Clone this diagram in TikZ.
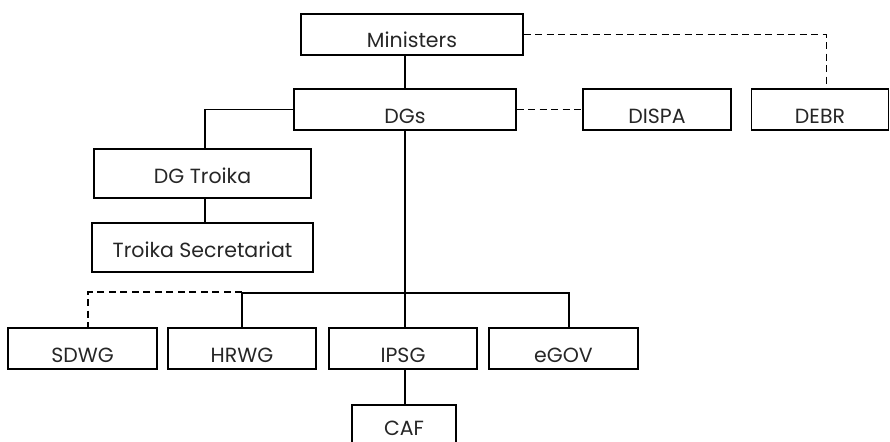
\documentclass[tikz,border=0pt]{standalone}
\usepackage{fontspec}
\setmainfont{Poppins}
\begin{document}
\begin{tikzpicture}[x=1pt,y=-1pt,
  box/.style={draw=black,line width=1.3pt,rectangle,inner sep=0pt,
    font=\fontsize{20.5}{24}\selectfont,text=black!85},
  lowbox/.style={box,minimum height=41pt,text height=27pt,text depth=0pt},
  tallbox/.style={box,minimum height=49pt,text height=19pt,text depth=0pt},
  link/.style={line width=1.3pt},
  dlink/.style={line width=1.3pt,dash pattern=on 7pt off 4.5pt}]
\clip (0,0) rectangle (890,441);
% top row
\node[lowbox,minimum width=222pt] (min) at (412,34.5) {Ministers};
\node[lowbox,minimum width=222pt] (dgs) at (405,109.5) {DGs};
\node[lowbox,minimum width=148pt] (dispa) at (657,109.5) {DISPA};
\node[lowbox,minimum width=137pt] (debr) at (820,109.5) {DEBR};
% troika
\node[tallbox,minimum width=217pt] (dgt) at (202.5,173.5) {DG Troika};
\node[tallbox,minimum width=221pt] (ts) at (202.5,247.5) {Troika Secretariat};
% working groups
\node[lowbox,minimum width=149pt] (sdwg) at (82.5,348.5) {SDWG};
\node[lowbox,minimum width=148pt] (hrwg) at (242,348.5) {HRWG};
\node[lowbox,minimum width=148pt] (ipsg) at (403,348.5) {IPSG};
\node[lowbox,minimum width=149pt] (egov) at (563.5,348.5) {eGOV};
\node[lowbox,minimum width=104pt,text height=20pt] (caf) at (404,425.5) {CAF};
% connectors
\draw[link] (dgs.north) -- (dgs.north |- min.south);
\draw[dlink] (min.east) -| ([xshift=6.5pt]debr.north);
\draw[dlink] (dgs.east) -- (dispa.west);
\draw[link] (dgs.west) -| ([xshift=2.5pt]dgt.north);
\draw[link] ([xshift=2.5pt]dgt.south) -- ([xshift=2.5pt]ts.north);
\draw[link] (dgs.south) -- (dgs.south |- ipsg.north);
\coordinate (bar) at (405,293);
\draw[link] (hrwg.north) |- (bar) -| ([xshift=5.5pt]egov.north);
\coordinate (sdl) at (242,292);
\draw[dlink] (sdl) -| ([xshift=5.5pt]sdwg.north);
\draw[link] (dgs.south |- ipsg.south) -- (dgs.south |- caf.north);
\end{tikzpicture}
\end{document}
